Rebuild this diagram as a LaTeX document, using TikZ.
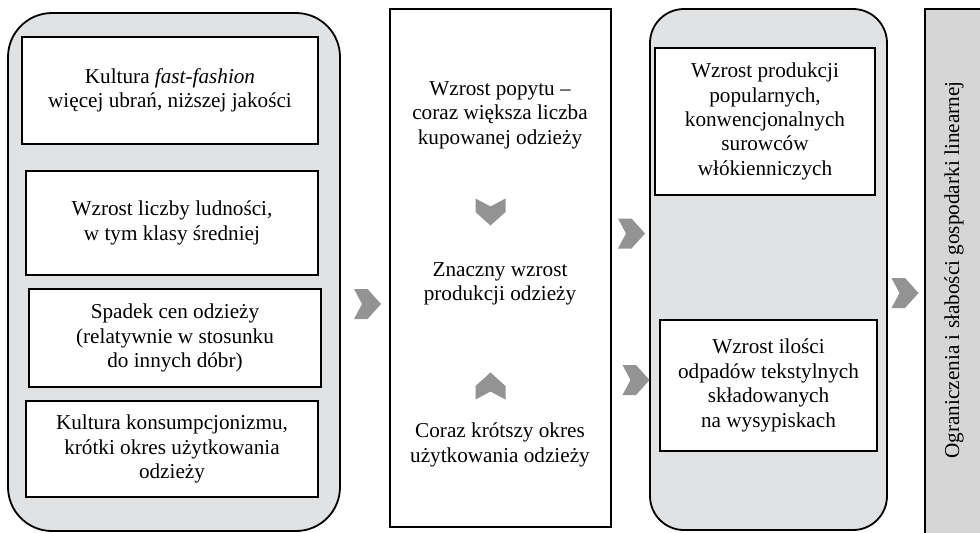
\documentclass[tikz,border=0pt]{standalone}
\usepackage{fontspec}
\setmainfont{Liberation Serif}
\usetikzlibrary{positioning}
\definecolor{panelgray}{HTML}{E1E2E4}
\definecolor{sidegray}{HTML}{D6D6D7}
\definecolor{chevgray}{HTML}{939393}
\tikzset{%
  font=\fontsize{10.6}{12.2}\selectfont,
  panel/.style={draw,line width=0.9pt,fill=panelgray,inner sep=0pt},
  cause/.style={draw,line width=0.75pt,fill=white,align=center,inner sep=0pt},
  stage/.style={align=center,inner sep=0pt},
  chev/.pic={\fill[chevgray] (-13.5,-15) -- (0,-15) -- (13.5,0) -- (0,15) -- (-13.5,15) -- (-5.5,0) -- cycle;}
}
\begin{document}
\begin{tikzpicture}[x=0.5pt,y=-0.5pt]
	\clip (0,0) rectangle (980,532);
	% panels
	\node[panel,rounded corners=22pt,minimum width=166pt,minimum height=259pt] (causes) at (174,272) {};
	\node[panel,fill=white,minimum width=110.5pt,minimum height=259pt] (middle) at (500.5,268) {};
	\node[panel,rounded corners=17pt,minimum width=118.5pt,minimum height=260.5pt] (effects) at (768.5,269.5) {};
	\node[panel,fill=sidegray,minimum width=32.5pt,minimum height=265.5pt] (side) at (957.5,274.5) {};
	% causes
	\node[cause,minimum width=148pt,minimum height=53.5pt] (fashion) at (170,90.5)
		{Kultura \textit{fast-fashion}\\więcej ubrań, niższej jakości};
	\node[cause,minimum width=146pt,minimum height=52pt] (ludnosc) at (172,223)
		{Wzrost liczby ludności,\\w tym klasy średniej};
	\node[cause,minimum width=146pt,minimum height=49pt] (ceny) at (175,338)
		{Spadek cen odzieży\\(relatywnie w stosunku\\do innych dóbr)};
	\node[cause,minimum width=146pt,minimum height=48pt] (konsumpcja) at (172,449)
		{Kultura konsumpcjonizmu,\\krótki okres użytkowania\\odzieży};
	% middle
	\node[stage] (popyt) at (500,115)
		{Wzrost popytu –\\coraz większa liczba\\kupowanej odzieży};
	\node[stage] (produkcja) at (500,284)
		{Znaczny wzrost\\produkcji odzieży};
	\node[stage] (okres) at (500,445)
		{Coraz krótszy okres\\użytkowania odzieży};
	% effects
	\node[cause,minimum width=110pt,minimum height=73.5pt] (surowce) at (765,121.5)
		{Wzrost produkcji\\popularnych,\\konwencjonalnych\\surowców\\włókienniczych};
	\node[cause,minimum width=108.5pt,minimum height=65.5pt] (odpady) at (768.5,385.5)
		{Wzrost ilości\\odpadów tekstylnych\\składowanych\\na wysypiskach};
	\node[stage,rotate=90] (slabosci) at (954,270)
		{Ograniczenia i słabości gospodarki linearnej};
	% chevrons
	\pic at (367.5,304) {chev};
	\pic at (631.5,233.5) {chev};
	\pic at (636,380) {chev};
	\pic at (905,293) {chev};
	\pic[rotate=-90] at (490.5,212) {chev};
	\pic[rotate=90] at (490.5,386) {chev};
\end{tikzpicture}
\end{document}
